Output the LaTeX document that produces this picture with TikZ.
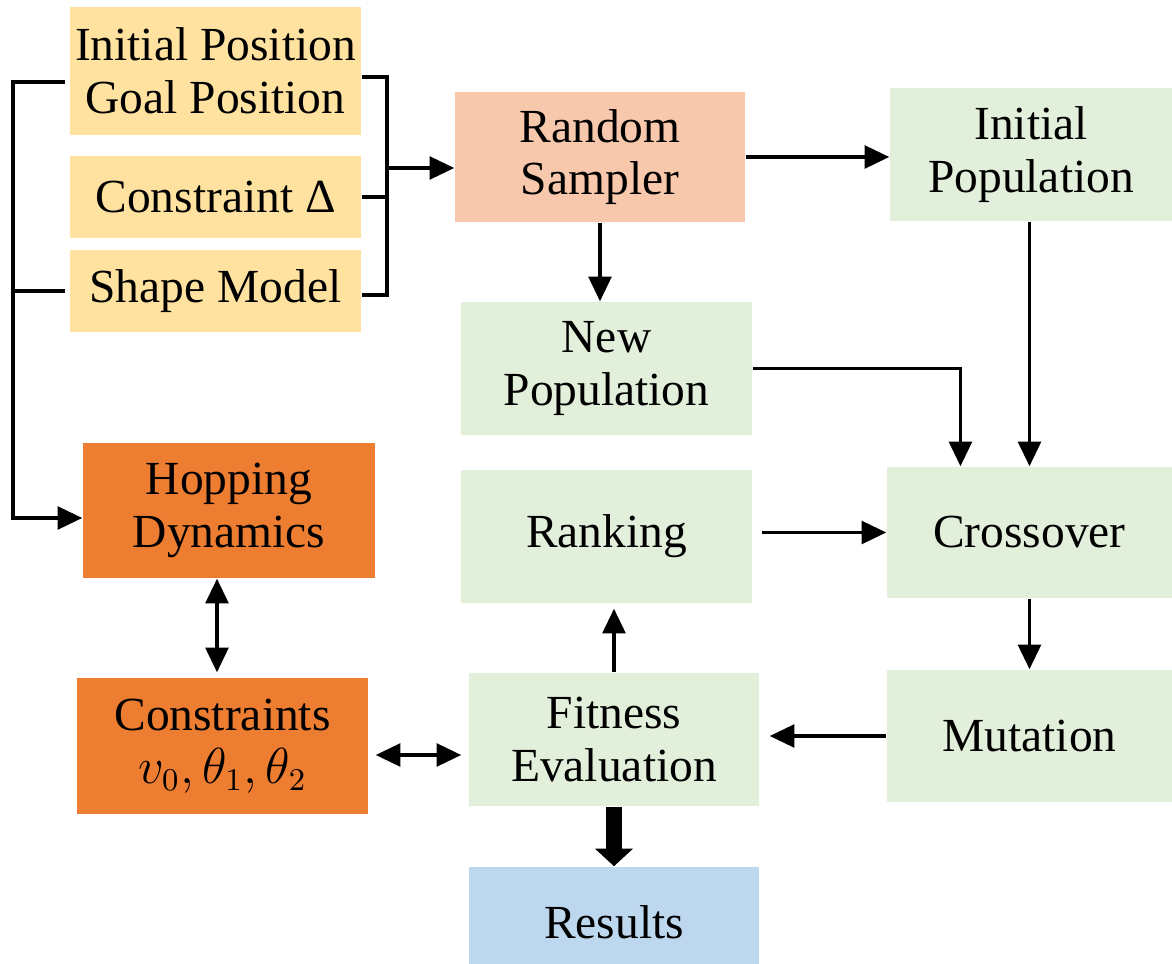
\documentclass[tikz,border=0pt]{standalone}
\usepackage{fontspec}
\setmainfont{Liberation Serif}
\usetikzlibrary{arrows.meta}
\definecolor{inyellow}{HTML}{FFE2A0}
\definecolor{samplercol}{HTML}{F7C8AC}
\definecolor{gagreen}{HTML}{E2EFDA}
\definecolor{dynorange}{HTML}{ED7D31}
\definecolor{resblue}{HTML}{BDD7EE}
\begin{document}
\begin{tikzpicture}[x=0.01cm,y=-0.01cm,
  box/.style={inner sep=0pt,align=center,minimum width=2.91cm,minimum height=1.33cm,font=\fontsize{13.5}{15}\selectfont},
  inbox/.style={box,fill=inyellow},
  gabox/.style={box,fill=gagreen},
  dynbox/.style={box,fill=dynorange},
  line/.style={line width=0.9pt},
  arrow/.style={line,-{Triangle[length=7pt,width=6.5pt]}},
  dbl/.style={line,{Triangle[length=7pt,width=6.5pt]}-{Triangle[length=7pt,width=6.5pt]}},
  bigarrow/.style={line width=4.5pt,-{Triangle[length=5pt,width=10.5pt]}}]
\useasboundingbox (0,0) rectangle (1172,964);

% inputs
\node[inbox,minimum height=1.28cm] (init) at (215.5,71) {Initial Position\\Goal Position};
\node[inbox,minimum height=0.82cm] (cons) at (215.5,197) {Constraint Δ};
\node[inbox,minimum height=0.82cm] (shape) at (215.5,291) {Shape Model};

% genetic algorithm
\node[box,fill=samplercol,minimum width=2.90cm,minimum height=1.30cm] (sampler) at (600,157) {Random\\Sampler};
\node[gabox,minimum width=2.82cm] (initpop) at (1031,154.5) {Initial\\Population};
\node[gabox] (newpop) at (606.5,368.5) {New\\Population};
\node[gabox] (ranking) at (606.5,536.5) {Ranking};
\node[gabox,minimum width=2.85cm,minimum height=1.31cm] (cross) at (1029.5,532.5) {Crossover};
\node[gabox,minimum width=2.90cm] (fitness) at (614,739.5) {Fitness\\Evaluation};
\node[gabox,minimum width=2.85cm,minimum height=1.32cm] (mutation) at (1029.5,736) {Mutation};
\node[box,fill=resblue,minimum width=2.90cm,minimum height=1.10cm] (results) at (614,922) {Results};

% dynamics
\node[dynbox,minimum width=2.92cm,minimum height=1.35cm] (hop) at (229,510.5) {Hopping\\Dynamics};
\node[dynbox,minimum height=1.36cm] (constr) at (222.5,746) {Constraints\\$v_0, \theta_1, \theta_2$};

% brackets
\coordinate (lb) at (13,82);
\coordinate (rb) at (387,77);
\coordinate (rj) at (387,168);
\draw[arrow,shorten <=0.04cm] (init.west |- lb) -- (lb) |- ([yshift=-0.075cm]hop.west);
\draw[line,shorten <=0.04cm] (shape.west) -- (lb |- shape.west);
\draw[line] (init.east |- rb) -- (rb) |- ([yshift=-0.04cm]shape.east);
\draw[line] (cons.east) -- (rb |- cons.east);
\draw[arrow] (rj) -- (sampler.west |- rj);

% connectors
\draw[arrow] (sampler.east) -- (sampler.east -| initpop.west);
\draw[arrow] (sampler.south) -- (sampler.south |- newpop.north);
\draw[arrow] (newpop.east) -| ([xshift=-0.69cm]cross.north);
\draw[arrow] (cross.north |- initpop.south) -- (cross.north);
\draw[arrow,shorten <=0.09cm] (ranking.east |- cross.west) -- (cross.west);
\draw[arrow] (cross.south) -- (mutation.north);
\draw[arrow,shorten >=0.1cm] (mutation.west) -- (mutation.west -| fitness.east);
\draw[arrow,shorten >=0.05cm] (fitness.north) -- (fitness.north |- ranking.south);
\draw[bigarrow] (fitness.south) -- (results.north);
\draw[dbl,shorten >=0.05cm] ([xshift=-0.12cm]hop.south) -- ([xshift=-0.12cm]hop.south |- constr.north);
\draw[dbl,shorten <=0.07cm,shorten >=0.07cm] ([yshift=-0.09cm]constr.east) -- ([yshift=-0.09cm]constr.east -| fitness.west);
\end{tikzpicture}
\end{document}
